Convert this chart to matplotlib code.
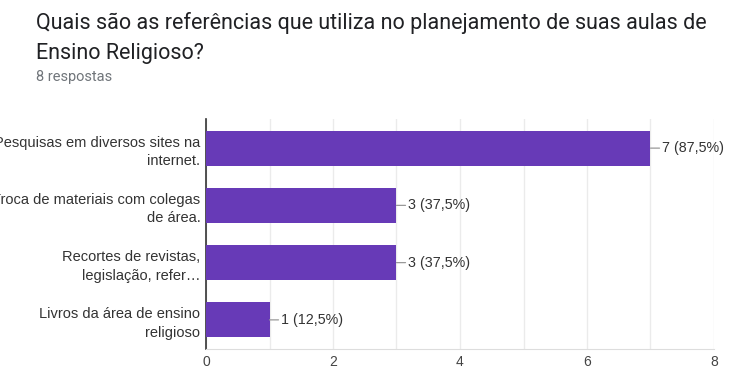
import matplotlib.pyplot as plt
import numpy as np

plt.rcParams['font.family'] = ['Roboto', 'DejaVu Sans']

labels = ['Pesquisas em diversos sites na\ninternet.',
          'Troca de materiais com colegas\nde área.',
          'Recortes de revistas,\nlegislação, refer…',
          'Livros da área de ensino\nreligioso']
counts = [7, 3, 3, 1]
pct = ['87,5%', '37,5%', '37,5%', '12,5%']
total = 8
xticks = [0, 2, 4, 6, 8]

chart_font = ['Liberation Sans', 'DejaVu Sans']

fig = plt.figure(figsize=(7.4, 3.69), dpi=100)
ax = fig.add_axes([206/740, 1 - 348.5/369, 508/740, 229/369])

y = np.arange(len(counts))
ax.barh(y, counts, height=0.61, color='#673ab7', zorder=3)
ax.set_ylim(len(counts) - 0.5, -0.5)
ax.set_xlim(0, total)

ax.set_xticks(xticks)
ax.set_xticks(np.arange(0, total + 1), minor=True)
ax.grid(axis='x', which='both', color='#ebebeb', lw=1, zorder=0)
ax.tick_params(axis='x', which='both', length=0, pad=4.5, labelsize=10, labelcolor='#444444')
for t in ax.get_xticklabels():
    t.set_family(chart_font)
ax.set_yticks(y)
ax.set_yticklabels(labels, fontsize=10.5, color='#333333', linespacing=1.42, family=chart_font)
ax.tick_params(axis='y', length=0, pad=4)

for s in ['top', 'right']:
    ax.spines[s].set_visible(False)
ax.spines['left'].set_color('#333333')
ax.spines['left'].set_linewidth(1.2)
ax.spines['bottom'].set_color('#dddddd')

# value labels with a short leader line
for yi, c, p in zip(y, counts, pct):
    ax.annotate(f'{c} ({p})', xy=(c, yi), xytext=(8.5, 0), textcoords='offset points',
                ha='left', va='center', fontsize=10.3, color='#333333', family=chart_font,
                arrowprops=dict(arrowstyle='-', color='#999999', lw=0.9,
                                shrinkA=0, shrinkB=0))

fig.text(36/740, 1 - 23/369, 'Quais são as referências que utiliza no planejamento de suas aulas de',
         fontsize=15.5, color='#202124', va='center', ha='left')
fig.text(36/740, 1 - 53/369, 'Ensino Religioso?', fontsize=15.5, color='#202124',
         va='center', ha='left')
fig.text(36/740, 1 - 77/369, '8 respostas', fontsize=10.5, color='#70757a',
         va='center', ha='left')

fig.savefig('out.png', dpi=100)
